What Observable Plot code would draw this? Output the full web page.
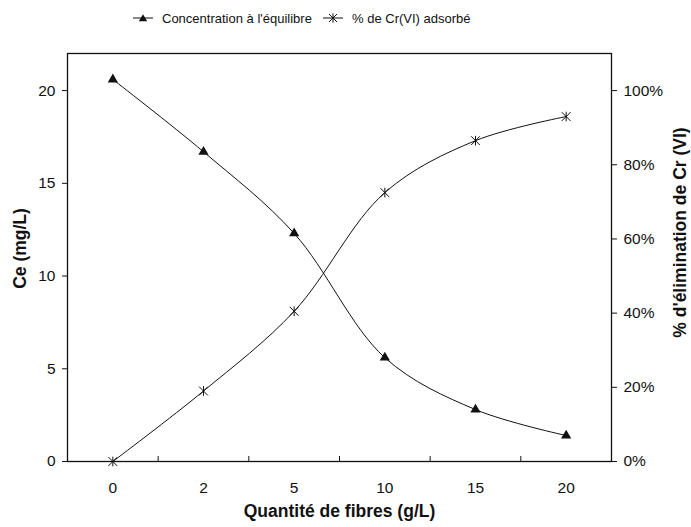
<!DOCTYPE html>
<html><head><meta charset="utf-8">
<script src="https://cdn.jsdelivr.net/npm/d3@7"></script>
<script src="https://cdn.jsdelivr.net/npm/@observablehq/plot@0.6"></script>
<style>
body{margin:0;background:#fff;font-family:"Liberation Sans",Arial,sans-serif;color:#111;}
#legend{position:relative;height:36px;font-size:13px;color:#111;}
.item{position:absolute;top:10px;display:flex;align-items:center;height:16px;white-space:nowrap;}
.item svg{margin-right:9px;}
</style></head><body>
<div id="legend"></div>
<div id="chart"></div>
<script>
const categories = ["0","2","5","10","15","20"];
const concentration = [20.6, 16.7, 12.3, 5.6, 2.8, 1.4];
const pctAdsorbed = [0, 19, 40.5, 72.5, 86.5, 93];
const leftTicks = [0, 5, 10, 15, 20];
const rightTicks = [0, 20, 40, 60, 80, 100];
const leftMax = 22, rightMax = 110;
const seriesNames = ["Concentration à l'équilibre", "% de Cr(VI) adsorbé"];
const titles = {x: "Quantité de fibres (g/L)", yLeft: "Ce (mg/L)", yRight: "% d'élimination de Cr (VI)"};

const k = leftMax / rightMax;
const rows = categories.map((c, i) => ({i, c, ce: concentration[i], pct: pctAdsorbed[i]}));

const star = {
  draw(ctx, size) {
    const r = Math.sqrt(size / Math.PI);
    ctx.moveTo(-r, -r); ctx.lineTo(r, r);
    ctx.moveTo(r, -r); ctx.lineTo(-r, r);
    ctx.moveTo(0, -r * 1.1); ctx.lineTo(0, r * 1.1);
  }
};

// legend
const legend = document.getElementById("legend");
const icons = [
  `<svg width="20" height="10"><line x1="0" y1="5" x2="20" y2="5" stroke="#111" stroke-width="1"/><path d="M10,1.2L14.2,8.2L5.8,8.2Z" fill="#111"/></svg>`,
  `<svg width="20" height="10"><line x1="0" y1="5" x2="20" y2="5" stroke="#111" stroke-width="1"/><path d="M6,1L14,9M14,1L6,9M10,0.3L10,9.7" stroke="#111" stroke-width="1" fill="none"/></svg>`
];
const lefts = [133, 323];
seriesNames.forEach((n, j) => {
  const d = document.createElement("div");
  d.className = "item";
  d.style.left = lefts[j] + "px";
  d.innerHTML = icons[j] + `<span>${n}</span>`;
  legend.appendChild(d);
});

const chart = Plot.plot({
  width: 691,
  height: 491,
  marginTop: 17,
  marginBottom: 66,
  marginLeft: 67,
  marginRight: 80,
  style: {fontFamily: "'Liberation Sans', Arial, sans-serif", color: "#111", background: "#fff"},
  x: {domain: [-0.5, categories.length - 0.5]},
  y: {domain: [0, leftMax]},
  marks: [
    Plot.axisY({anchor: "left", ticks: leftTicks, tickSize: 5, tickPadding: 7, fontSize: 15.5, label: null}),
    Plot.axisY({anchor: "right", ticks: rightTicks.map(p => p * k), tickFormat: d => Math.round(d / k) + "%", tickSize: 5, tickPadding: 7, fontSize: 15.5, label: null}),
    Plot.axisX({ticks: categories.map((c, i) => i), tickFormat: i => categories[i], tickSize: 0, tickPadding: 20, fontSize: 15.5, label: null}),
    Plot.axisX({ticks: d3.range(categories.length - 1).map(i => i + 0.5), tickFormat: () => "", tickSize: 5, dy: -5, label: null}),
    Plot.frame({stroke: "#111", strokeWidth: 1.3}),
    Plot.line(rows, {x: "i", y: "ce", curve: "catmull-rom", stroke: "#111", strokeWidth: 1}),
    Plot.line(rows, {x: "i", y: d => d.pct * k, curve: "catmull-rom", stroke: "#111", strokeWidth: 1}),
    Plot.dot(rows, {x: "i", y: "ce", symbol: "triangle", r: 3.8, fill: "#111", stroke: "none"}),
    Plot.dot(rows, {x: "i", y: d => d.pct * k, symbol: star, r: 4.4, fill: "none", stroke: "#111", strokeWidth: 1}),
    Plot.text([titles.yLeft], {text: d => d, frameAnchor: "left", textAnchor: "middle", rotate: -90, dx: -47, dy: -9, fontSize: 17.5, fontWeight: "bold"}),
    Plot.text([titles.yRight], {text: d => d, frameAnchor: "right", textAnchor: "middle", rotate: -90, dx: 69, dy: -25, fontSize: 17.5, fontWeight: "bold"}),
    Plot.text([titles.x], {text: d => d, frameAnchor: "bottom", dy: 55, fontSize: 17.5, fontWeight: "bold"})
  ]
});
document.getElementById("chart").appendChild(chart);
</script>
</body></html>
